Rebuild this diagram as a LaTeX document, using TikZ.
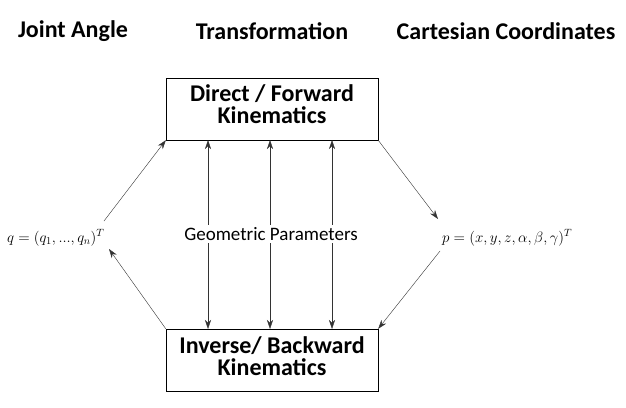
\documentclass[tikz,border=0pt]{standalone}
\usepackage{fix-cm}
\usepackage{fontspec}
\setmainfont{Carlito}
\usetikzlibrary{arrows.meta}

\begin{document}
\begin{tikzpicture}[x=1pt, y=-1pt,
    headstyle/.style={font=\bfseries\fontsize{24}{28}\selectfont},
    boxstyle/.style={draw, thin, minimum width=212pt, minimum height=62pt},
    boxtext/.style={align=center, inner sep=0pt, font=\bfseries\fontsize{24}{22}\selectfont},
    mathstyle/.style={anchor=west, inner sep=0pt, font=\fontsize{15}{17}\selectfont},
    arrowstyle/.style={-{Stealth[length=9pt,width=6pt]}, thin, black!80}]

        % fixing the page size
        \useasboundingbox (0,0) rectangle (626,407);

        % column titles
        \node[headstyle] (angle) at (73,31) {Joint Angle};
        \node[headstyle] (trans) at (272,31) {Transformation};
        \node[headstyle] (cart) at (506,31) {Cartesian Coordinates};

        % the two kinematics boxes
        \node[boxstyle] (direct) at (272,109) {};
        \node[boxstyle] (inverse) at (272,360) {};
        \node[boxtext] (directtxt) at ([yshift=5pt]direct.center) {Direct / Forward\\Kinematics};
        \node[boxtext] (inversetxt) at ([yshift=4pt]inverse.center) {Inverse/ Backward\\Kinematics};

        % joint and cartesian vectors
        \node[mathstyle] (q) at (7,238) {$q=(q_1,...,q_n)^T$};
        \node[mathstyle] (p) at (442,238) {$p=(x,y,z,\alpha,\beta,\gamma)^T$};
        \coordinate (qtop) at (104,221);
        \coordinate (qbot) at (109,249);
        \coordinate (ptop) at (438,219);
        \coordinate (pbot) at (440,251);

	\draw[arrowstyle] (qtop) -- (direct.south west);
	\draw[arrowstyle] (inverse.north west) -- (qbot);
	\draw[arrowstyle] (direct.south east) -- (ptop);
	\draw[arrowstyle] (pbot) -- (inverse.north east);

        % geometric parameters in both directions
	\foreach \x in {208,270,332}
		\draw[arrowstyle, {Stealth[length=9pt,width=6pt]}-{Stealth[length=9pt,width=6pt]}] (\x,140) -- (\x,329);

	\node[fill=white, inner sep=2pt, font=\fontsize{19}{21}\selectfont] (geo) at (271,234) {Geometric Parameters};

	\end{tikzpicture}
\end{document}
